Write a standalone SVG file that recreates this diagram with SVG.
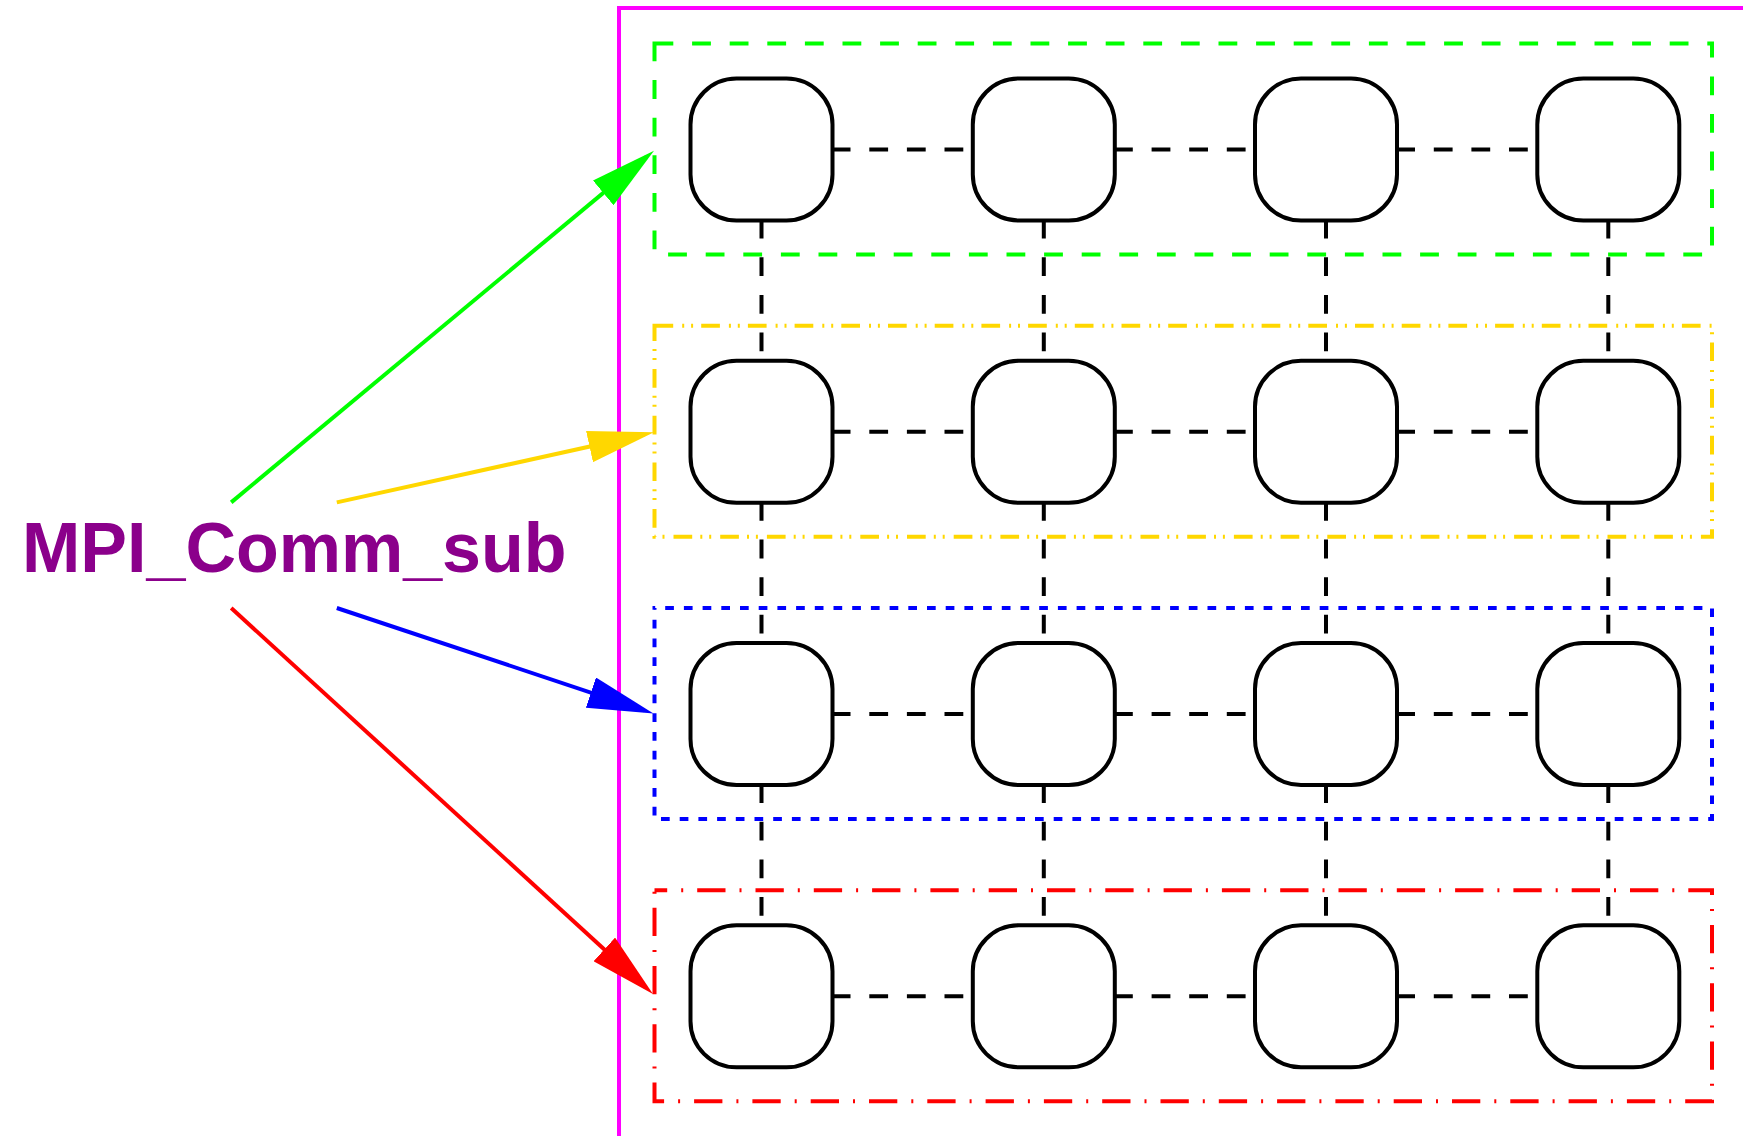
<svg xmlns="http://www.w3.org/2000/svg" width="1743" height="1136" viewBox="0 0 1743 1136">
<style>
.frame{fill:none;stroke:#FF00FF;stroke-width:4}
.grp{fill:none;stroke-width:4}
.g1{stroke:#00FF00;stroke-dasharray:18.8 18.8}
.g2{stroke:#FFD700;stroke-dasharray:18.7 9 2 6.9 2 8.1}
.g3{stroke:#0000FF;stroke-dasharray:8.7 10;stroke-dashoffset:8}
.g4{stroke:#FF0000;stroke-dasharray:28.3 14 2 14;stroke-dashoffset:15.6}
.conn line{stroke:#000;stroke-width:4;stroke-dasharray:18.8 18.8;stroke-dashoffset:5}
.node rect{fill:#fff;stroke:#000;stroke-width:4}
.arrow{stroke-width:4;fill:none}
.label{font-family:"Liberation Sans",Arial,sans-serif;font-weight:bold;font-size:70px;fill:#8B008B}
</style>
<defs>
<marker id="mg" viewBox="0 0 66 32" refX="56" refY="16" markerWidth="66" markerHeight="32" markerUnits="userSpaceOnUse" orient="auto"><path d="M0,0 L66,16 L0,32 z" fill="#00FF00"/></marker>
<marker id="my" viewBox="0 0 66 32" refX="56" refY="16" markerWidth="66" markerHeight="32" markerUnits="userSpaceOnUse" orient="auto"><path d="M0,0 L66,16 L0,32 z" fill="#FFD700"/></marker>
<marker id="mb" viewBox="0 0 66 32" refX="56" refY="16" markerWidth="66" markerHeight="32" markerUnits="userSpaceOnUse" orient="auto"><path d="M0,0 L66,16 L0,32 z" fill="#0000FF"/></marker>
<marker id="mr" viewBox="0 0 66 32" refX="56" refY="16" markerWidth="66" markerHeight="32" markerUnits="userSpaceOnUse" orient="auto"><path d="M0,0 L66,16 L0,32 z" fill="#FF0000"/></marker>
</defs>
<rect width="1743" height="1136" fill="#fff"/>
<g id="frame"><rect class="frame" x="619" y="8" width="1200" height="1130"/></g>
<g id="groups">
<rect id="group-green" class="grp g1" x="654.5" y="43.5" width="1057.5" height="211"/>
<rect id="group-yellow" class="grp g2" x="654.5" y="325.8" width="1057.5" height="211"/>
<rect id="group-blue" class="grp g3" x="654.5" y="608" width="1057.5" height="211"/>
<rect id="group-red" class="grp g4" x="654.5" y="890.3" width="1057.5" height="211"/>
</g>
<g id="connectors" class="conn">
<line x1="761.5" y1="149.5" x2="1043.8" y2="149.5"/>
<line x1="1043.8" y1="149.5" x2="1326" y2="149.5"/>
<line x1="1326" y1="149.5" x2="1608.3" y2="149.5"/>
<line x1="761.5" y1="431.8" x2="1043.8" y2="431.8"/>
<line x1="1043.8" y1="431.8" x2="1326" y2="431.8"/>
<line x1="1326" y1="431.8" x2="1608.3" y2="431.8"/>
<line x1="761.5" y1="714" x2="1043.8" y2="714"/>
<line x1="1043.8" y1="714" x2="1326" y2="714"/>
<line x1="1326" y1="714" x2="1608.3" y2="714"/>
<line x1="761.5" y1="996.3" x2="1043.8" y2="996.3"/>
<line x1="1043.8" y1="996.3" x2="1326" y2="996.3"/>
<line x1="1326" y1="996.3" x2="1608.3" y2="996.3"/>
<line x1="761.5" y1="149.5" x2="761.5" y2="431.8"/>
<line x1="761.5" y1="431.8" x2="761.5" y2="714"/>
<line x1="761.5" y1="714" x2="761.5" y2="996.3"/>
<line x1="1043.8" y1="149.5" x2="1043.8" y2="431.8"/>
<line x1="1043.8" y1="431.8" x2="1043.8" y2="714"/>
<line x1="1043.8" y1="714" x2="1043.8" y2="996.3"/>
<line x1="1326" y1="149.5" x2="1326" y2="431.8"/>
<line x1="1326" y1="431.8" x2="1326" y2="714"/>
<line x1="1326" y1="714" x2="1326" y2="996.3"/>
<line x1="1608.3" y1="149.5" x2="1608.3" y2="431.8"/>
<line x1="1608.3" y1="431.8" x2="1608.3" y2="714"/>
<line x1="1608.3" y1="714" x2="1608.3" y2="996.3"/>
</g>
<g id="nodes">
<g id="n11" class="node"><rect x="690.5" y="78.5" width="142" height="142" rx="46"/></g>
<g id="n12" class="node"><rect x="972.8" y="78.5" width="142" height="142" rx="46"/></g>
<g id="n13" class="node"><rect x="1255" y="78.5" width="142" height="142" rx="46"/></g>
<g id="n14" class="node"><rect x="1537.3" y="78.5" width="142" height="142" rx="46"/></g>
<g id="n21" class="node"><rect x="690.5" y="360.8" width="142" height="142" rx="46"/></g>
<g id="n22" class="node"><rect x="972.8" y="360.8" width="142" height="142" rx="46"/></g>
<g id="n23" class="node"><rect x="1255" y="360.8" width="142" height="142" rx="46"/></g>
<g id="n24" class="node"><rect x="1537.3" y="360.8" width="142" height="142" rx="46"/></g>
<g id="n31" class="node"><rect x="690.5" y="643" width="142" height="142" rx="46"/></g>
<g id="n32" class="node"><rect x="972.8" y="643" width="142" height="142" rx="46"/></g>
<g id="n33" class="node"><rect x="1255" y="643" width="142" height="142" rx="46"/></g>
<g id="n34" class="node"><rect x="1537.3" y="643" width="142" height="142" rx="46"/></g>
<g id="n41" class="node"><rect x="690.5" y="925.3" width="142" height="142" rx="46"/></g>
<g id="n42" class="node"><rect x="972.8" y="925.3" width="142" height="142" rx="46"/></g>
<g id="n43" class="node"><rect x="1255" y="925.3" width="142" height="142" rx="46"/></g>
<g id="n44" class="node"><rect x="1537.3" y="925.3" width="142" height="142" rx="46"/></g>
</g>
<g id="arrows">
<line class="arrow" x1="231.2" y1="502.4" x2="646.3" y2="157.1" stroke="#00FF00" marker-end="url(#mg)"/>
<line class="arrow" x1="336.8" y1="502.4" x2="644.2" y2="434.5" stroke="#FFD700" marker-end="url(#my)"/>
<line class="arrow" x1="336.8" y1="608" x2="644.0" y2="710.3" stroke="#0000FF" marker-end="url(#mb)"/>
<line class="arrow" x1="231.2" y1="608" x2="645.6" y2="987.2" stroke="#FF0000" marker-end="url(#mr)"/>
</g>
<g id="label"><text class="label" x="22" y="572">MPI_Comm_sub</text></g>
</svg>
